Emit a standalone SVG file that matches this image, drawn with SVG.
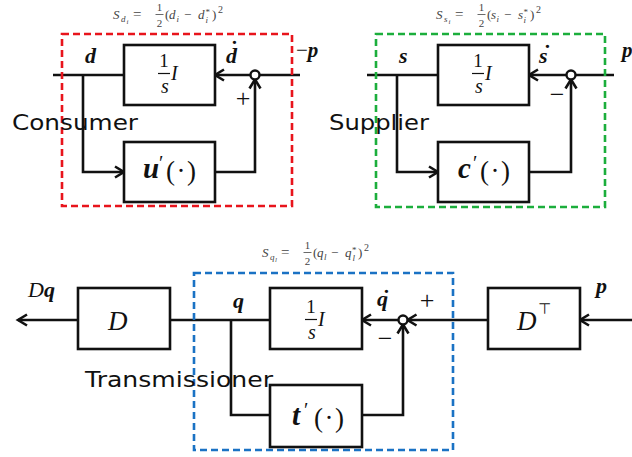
<svg xmlns="http://www.w3.org/2000/svg" width="632" height="457" viewBox="0 0 632 457">
<style>
.bx{fill:#fff;stroke:#111;stroke-width:2.6}
.ln{fill:none;stroke:#111;stroke-width:2.6}
.sum{fill:#fff;stroke:#111;stroke-width:2.4}
.dash{fill:none;stroke-width:2.6;stroke-dasharray:7 4}
.m{font-family:"Liberation Serif","DejaVu Serif",serif;fill:#111}
.bi{font-weight:bold;font-style:italic}
.it{font-style:italic}
.fm{font-family:"Liberation Serif","DejaVu Serif",serif;fill:#444;font-size:13px}
.sm{font-size:9px}
.lab{font-family:"DejaVu Sans","Liberation Sans",sans-serif;font-size:21px;fill:#111}
.fb{stroke:#444;stroke-width:0.8}
.bar{stroke:#111;stroke-width:1.2}
.pd{letter-spacing:1.5px}
</style>
<defs>
<marker id="ah" markerUnits="userSpaceOnUse" markerWidth="14" markerHeight="14" refX="11" refY="7" orient="auto">
<path d="M2,1.5 L11,7 L2,12.5" fill="none" stroke="#111" stroke-width="2.6"/>
</marker>
</defs>

<g id="connectors">
<path class="ln" d="M53,75 H124"/>
<path class="ln" d="M250.5,75 H215" marker-end="url(#ah)"/>
<path class="ln" d="M259.5,75 H300"/>
<path class="ln" d="M83,75 V172 H124" marker-end="url(#ah)"/>
<path class="ln" d="M215,172 H255 V79.5" marker-end="url(#ah)"/>
<path class="ln" d="M367,75 H438"/>
<path class="ln" d="M566.5,75 H529" marker-end="url(#ah)"/>
<path class="ln" d="M575.5,75 H614"/>
<path class="ln" d="M397,75 V172 H438" marker-end="url(#ah)"/>
<path class="ln" d="M529,172 H571 V79.5" marker-end="url(#ah)"/>
<path class="ln" d="M78,320 H18" marker-end="url(#ah)"/>
<path class="ln" d="M170,320 H270"/>
<path class="ln" d="M398.5,320 H362" marker-end="url(#ah)"/>
<path class="ln" d="M231,320 V415 H270"/>
<path class="ln" d="M362,415 H403 V324.5" marker-end="url(#ah)"/>
<path class="ln" d="M488,320 H407.5" marker-end="url(#ah)"/>
<path class="ln" d="M632,320 H580" marker-end="url(#ah)"/>
</g>

<g id="consumer">
<rect class="dash" x="62" y="34" width="230" height="172" stroke="#e8141c"/>
<text class="lab" x="12" y="130" textLength="126" lengthAdjust="spacingAndGlyphs">Consumer</text>
<g class="fm">
<text class="it" x="113" y="19">S</text>
<text class="it sm" x="121" y="22">d</text>
<text class="it" x="126.5" y="24" font-size="7">i</text>
<text x="133" y="19" font-size="15">=</text>
<text x="159.5" y="11" text-anchor="middle" font-size="11">1</text>
<line class="fb" x1="155.5" y1="14.5" x2="163.5" y2="14.5"/>
<text x="159.5" y="27" text-anchor="middle" font-size="11">2</text>
<text x="165" y="19">(</text>
<text class="it" x="169" y="19">d</text>
<text class="it sm" x="176.5" y="22">i</text>
<text x="184" y="19">−</text>
<text class="it" x="198" y="19">d</text>
<text class="sm" x="205.5" y="15">*</text>
<text class="it sm" x="205.5" y="23">i</text>
<text x="212" y="19">)</text>
<text x="218" y="13" font-size="10">2</text>
</g>
<text class="m bi" x="85" y="63" font-size="22">d</text>
<text class="m bi" x="226" y="63" font-size="22">d<tspan dx="-7.5" dy="-7">˙</tspan></text>
<text class="m" x="243" y="107" font-size="26" text-anchor="middle">+</text>
</g>
<g id="consumer-int">
<rect class="bx" x="124" y="45" width="91" height="60"/>
<text class="m" x="164" y="67" font-size="19" text-anchor="middle">1</text>
<line class="bar" x1="158" y1="73.5" x2="170" y2="73.5"/>
<text class="m it" x="165" y="93" font-size="20" text-anchor="middle">s</text>
<text class="m it" x="171" y="80" font-size="20">I</text>
</g>
<g id="consumer-u">
<rect class="bx" x="124" y="142" width="91" height="60"/>
<text class="m bi" x="143" y="178" font-size="29">u</text>
<text class="m" x="159" y="170" font-size="20">′</text>
<text class="m pd" x="166" y="180" font-size="27">(·)</text>
</g>
<g id="consumer-sum"><circle class="sum" cx="255" cy="75" r="4.5"/></g>
<g id="price-neg">
<text class="m" x="296" y="57" font-size="21">−<tspan class="bi">p</tspan></text>
</g>

<g id="supplier">
<rect class="dash" x="376" y="34" width="229" height="173" stroke="#1cae3c"/>
<text class="lab" x="329" y="130" textLength="100" lengthAdjust="spacingAndGlyphs">Supplier</text>
<g class="fm">
<text class="it" x="436" y="19">S</text>
<text class="it sm" x="444" y="22">s</text>
<text class="it" x="448.5" y="24" font-size="7">i</text>
<text x="455" y="19" font-size="15">=</text>
<text x="481.5" y="11" text-anchor="middle" font-size="11">1</text>
<line class="fb" x1="477.5" y1="14.5" x2="485.5" y2="14.5"/>
<text x="481.5" y="27" text-anchor="middle" font-size="11">2</text>
<text x="487" y="19">(</text>
<text class="it" x="491" y="19">s</text>
<text class="it sm" x="496.5" y="22">i</text>
<text x="504" y="19">−</text>
<text class="it" x="518" y="19">s</text>
<text class="sm" x="523.5" y="15">*</text>
<text class="it sm" x="523.5" y="23">i</text>
<text x="530" y="19">)</text>
<text x="536" y="13" font-size="10">2</text>
</g>
<text class="m bi" x="399" y="63" font-size="22">s</text>
<text class="m bi" x="539" y="63" font-size="22">s<tspan dx="-5" dy="-3">˙</tspan></text>
<text class="m" x="557" y="103" font-size="26" text-anchor="middle">−</text>
</g>
<g id="supplier-int">
<rect class="bx" x="438" y="45" width="91" height="60"/>
<text class="m" x="478" y="67" font-size="19" text-anchor="middle">1</text>
<line class="bar" x1="472" y1="73.5" x2="484" y2="73.5"/>
<text class="m it" x="479" y="93" font-size="20" text-anchor="middle">s</text>
<text class="m it" x="485" y="80" font-size="20">I</text>
</g>
<g id="supplier-c">
<rect class="bx" x="438" y="142" width="91" height="60"/>
<text class="m bi" x="458" y="178" font-size="29">c</text>
<text class="m" x="473" y="170" font-size="20">′</text>
<text class="m pd" x="480" y="180" font-size="27">(·)</text>
</g>
<g id="supplier-sum"><circle class="sum" cx="571" cy="75" r="4.5"/></g>
<g id="price-pos">
<text class="m bi" x="622" y="57" font-size="21">p</text>
</g>

<g id="transmissioner">
<rect class="dash" x="194" y="273" width="259" height="177" stroke="#1a72c4"/>
<text class="lab" x="85" y="387" textLength="188" lengthAdjust="spacingAndGlyphs">Transmissioner</text>
<g class="fm">
<text class="it" x="262" y="257">S</text>
<text class="it sm" x="270" y="260">q</text>
<text class="it" x="275" y="262" font-size="7">l</text>
<text x="281" y="257" font-size="15">=</text>
<text x="307.5" y="249" text-anchor="middle" font-size="11">1</text>
<line class="fb" x1="303.5" y1="252.5" x2="311.5" y2="252.5"/>
<text x="307.5" y="265" text-anchor="middle" font-size="11">2</text>
<text x="313" y="257">(</text>
<text class="it" x="317" y="257">q</text>
<text class="it sm" x="324" y="260">l</text>
<text x="331" y="257">−</text>
<text class="it" x="345" y="257">q</text>
<text class="sm" x="352" y="253">*</text>
<text class="it sm" x="352.5" y="261">l</text>
<text x="358" y="257">)</text>
<text x="364" y="251" font-size="10">2</text>
</g>
<text class="m bi" x="233" y="308" font-size="22">q</text>
<text class="m bi" x="377" y="306" font-size="22">q<tspan dx="-6.5" dy="-1">˙</tspan></text>
<text class="m" x="427" y="309" font-size="26" text-anchor="middle">+</text>
<text class="m" x="385" y="347" font-size="26" text-anchor="middle">−</text>
</g>
<g id="trans-int">
<rect class="bx" x="270" y="288" width="92" height="61"/>
<text class="m" x="311" y="313" font-size="19" text-anchor="middle">1</text>
<line class="bar" x1="305" y1="319.5" x2="317" y2="319.5"/>
<text class="m it" x="312" y="339" font-size="20" text-anchor="middle">s</text>
<text class="m it" x="318" y="326" font-size="20">I</text>
</g>
<g id="trans-t">
<rect class="bx" x="270" y="385" width="92" height="62"/>
<text class="m bi" x="292" y="425" font-size="29">t</text>
<text class="m" x="304" y="417" font-size="20">′</text>
<text class="m pd" x="314" y="427" font-size="27">(·)</text>
</g>
<g id="trans-sum"><circle class="sum" cx="403" cy="320" r="4.5"/></g>
<g id="incidence-D">
<rect class="bx" x="78" y="288" width="92" height="61"/>
<text class="m it" x="108" y="330" font-size="27">D</text>
</g>
<g id="incidence-DT">
<rect class="bx" x="488" y="288" width="92" height="61"/>
<text class="m it" x="517" y="330" font-size="27">D</text>
<text x="538" y="314" font-size="15" font-family="DejaVu Sans,sans-serif" fill="#111">⊤</text>
</g>
<g id="flow-out">
<text class="m" x="28" y="297" font-size="22"><tspan class="it">D</tspan><tspan class="bi">q</tspan></text>
</g>
<g id="price-in">
<text class="m bi" x="596" y="293" font-size="22">p</text>
</g>
</svg>
